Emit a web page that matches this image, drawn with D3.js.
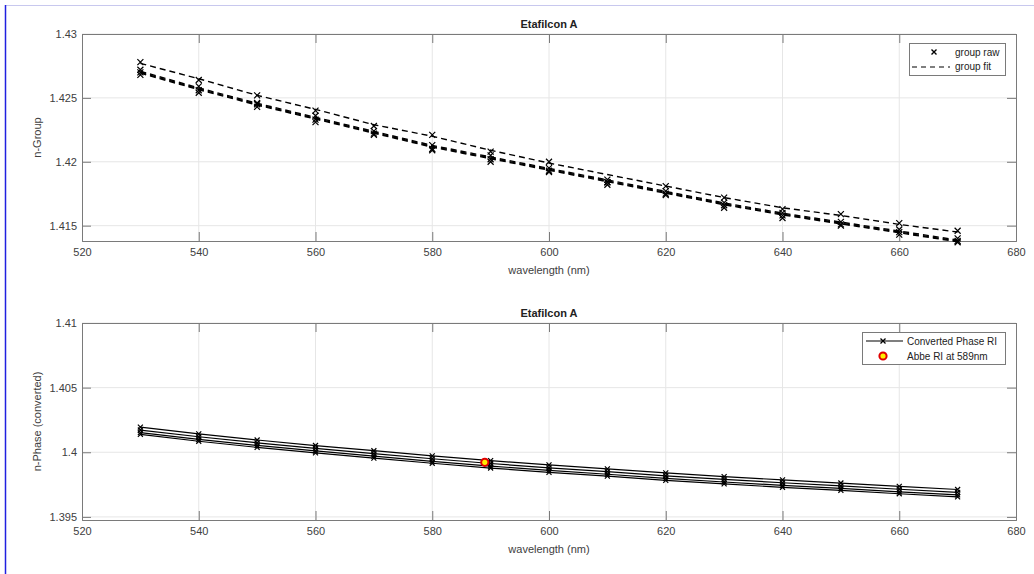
<!DOCTYPE html>
<html>
<head>
<meta charset="utf-8">
<script src="https://d3js.org/d3.v7.min.js"></script>
<style>
  body { margin: 0; background: #fff; }
  svg { display: block; font-family: "Liberation Sans", Arial, sans-serif; }
</style>
</head>
<body>
<svg id="main_svg" width="1034" height="574"></svg>
<script>
// wavelengths (nm)
const wl = [530, 540, 550, 560, 570, 580, 590, 600, 610, 620, 630, 640, 650, 660, 670]

// group index fits, one per sample (top panel)
const groupFitA = [1.4277, 1.4265, 1.4252, 1.4241, 1.4229, 1.4220, 1.4209, 1.4199, 1.4190, 1.4181, 1.4172, 1.4164, 1.4158, 1.4151, 1.4145]
const groupFitB = [1.42708, 1.42578, 1.42458, 1.42348, 1.42238, 1.42128, 1.42038, 1.41948, 1.41858, 1.41768, 1.41678, 1.41598, 1.41528, 1.41458, 1.41388]
const groupFitC = [1.4270, 1.4257, 1.4245, 1.4234, 1.4223, 1.4212, 1.4203, 1.4194, 1.4185, 1.4176, 1.4167, 1.4159, 1.4152, 1.4145, 1.4138]
const groupFitD = [1.42694, 1.42564, 1.42444, 1.42334, 1.42224, 1.42114, 1.42024, 1.41934, 1.41844, 1.41754, 1.41664, 1.41584, 1.41514, 1.41444, 1.41374]

// group index raw measurements
const groupRawA = [1.4278, 1.4264, 1.4252, 1.4240, 1.4228, 1.4221, 1.4208, 1.4200, 1.4184, 1.4181, 1.4172, 1.4163, 1.4159, 1.4152, 1.4146]
const groupRawB = [1.4272, 1.4259, 1.4246, 1.4236, 1.4224, 1.4213, 1.4205, 1.4195, 1.4184, 1.4177, 1.4168, 1.4160, 1.4153, 1.4147, 1.4140]
const groupRawC = [1.4270, 1.4256, 1.4245, 1.4233, 1.4222, 1.4210, 1.4202, 1.4193, 1.4186, 1.4175, 1.4166, 1.4158, 1.4151, 1.4145, 1.4138]
const groupRawD = [1.4268, 1.4254, 1.4243, 1.4231, 1.4221, 1.4209, 1.4200, 1.4192, 1.4182, 1.4174, 1.4164, 1.4156, 1.4150, 1.4143, 1.4137]

// converted phase index, one per sample (bottom panel)
const phaseA = [1.40195, 1.40142, 1.40095, 1.40052, 1.40012, 1.39972, 1.39935, 1.39902, 1.39872, 1.39840, 1.39812, 1.39786, 1.39762, 1.39736, 1.39712]
const phaseB = [1.40172, 1.40120, 1.40073, 1.40030, 1.39990, 1.39950, 1.39913, 1.39880, 1.39850, 1.39818, 1.39790, 1.39764, 1.39740, 1.39714, 1.39690]
const phaseC = [1.40152, 1.40100, 1.40053, 1.40010, 1.39970, 1.39930, 1.39893, 1.39860, 1.39830, 1.39798, 1.39770, 1.39744, 1.39720, 1.39694, 1.39670]
const phaseD = [1.40138, 1.40085, 1.40038, 1.39995, 1.39955, 1.39915, 1.39878, 1.39845, 1.39815, 1.39783, 1.39755, 1.39729, 1.39705, 1.39679, 1.39655]

// Abbe refractometer point
const abbeWl = 589
const abbeRI = 1.39922

const xTicks = [520, 540, 560, 580, 600, 620, 640, 660, 680]
const yTicksTop = [1.415, 1.42, 1.425, 1.43]
const yTicksBot = [1.395, 1.4, 1.405, 1.41]

const svg = d3.select("#main_svg")

// window frame lines
svg.append("line").attr("x1", 5).attr("x2", 1034).attr("y1", 5.5).attr("y2", 5.5)
    .attr("stroke", "#c8c8ee").attr("stroke-width", 1)
svg.append("line").attr("x1", 5.5).attr("x2", 5.5).attr("y1", 5).attr("y2", 574)
    .attr("stroke", "#2020e0").attr("stroke-width", 1.5)

const axisCol = "#7a7a7a"
const textCol = "#404040"

function panel(top, bottom, yDomain, yTicks, yFmt, yLabel) {
    const left = 82, right = 1016
    const x = d3.scaleLinear().domain([520, 680]).range([left, right])
    const y = d3.scaleLinear().domain(yDomain).range([bottom, top])
    const g = svg.append("g")

    // grid
    g.selectAll(".gx").data(xTicks.slice(1, -1)).enter().append("line")
        .attr("x1", d => x(d)).attr("x2", d => x(d)).attr("y1", top).attr("y2", bottom)
        .attr("stroke", "#e6e6e6")
    g.selectAll(".gy").data(yTicks).enter().append("line")
        .attr("x1", left).attr("x2", right).attr("y1", d => y(d)).attr("y2", d => y(d))
        .attr("stroke", "#e6e6e6")

    // axes (ticks inward, box on)
    const tl = 9
    g.append("g").attr("transform", "translate(0," + bottom + ")")
        .call(d3.axisBottom(x).tickValues(xTicks).tickSize(-tl).tickPadding(7).tickFormat(d3.format("d")))
    g.append("g").attr("transform", "translate(0," + top + ")")
        .call(d3.axisTop(x).tickValues(xTicks).tickSize(-tl).tickFormat(""))
    g.append("g").attr("transform", "translate(" + left + ",0)")
        .call(d3.axisLeft(y).tickValues(yTicks).tickSize(-tl).tickPadding(5).tickFormat(yFmt))
    g.append("g").attr("transform", "translate(" + right + ",0)")
        .call(d3.axisRight(y).tickValues(yTicks).tickSize(-tl).tickFormat(""))
    g.selectAll(".domain").attr("stroke", axisCol)
    g.selectAll(".tick line").attr("stroke", axisCol)
    g.selectAll(".tick text").attr("fill", textCol).attr("font-size", 11)
        .attr("font-family", "Liberation Sans, Arial, sans-serif")

    g.append("text").attr("x", (left + right) / 2).attr("y", top - 6)
        .attr("text-anchor", "middle").attr("font-size", 11).attr("font-weight", "bold")
        .attr("fill", "#222").text("Etafilcon A")
    g.append("text").attr("x", (left + right) / 2).attr("y", bottom + 33)
        .attr("text-anchor", "middle").attr("font-size", 11).attr("fill", textCol)
        .text("wavelength (nm)")
    const ly = (top + bottom) / 2
    g.append("text").attr("transform", "translate(41," + ly + ") rotate(-90)")
        .attr("text-anchor", "middle").attr("font-size", 11).attr("fill", textCol)
        .text(yLabel)
    return { x: x, y: y, g: g }
}

function cross(g, cx, cy, s, w) {
    g.append("path")
        .attr("d", "M" + (cx - s) + "," + (cy - s) + "L" + (cx + s) + "," + (cy + s) +
            "M" + (cx - s) + "," + (cy + s) + "L" + (cx + s) + "," + (cy - s))
        .attr("stroke", "#000").attr("stroke-width", w).attr("fill", "none")
}

// ---- top panel
const p1 = panel(34, 241, [1.4138, 1.43], yTicksTop, d => d3.format("")(d), "n-Group")
const fits = [groupFitA, groupFitB, groupFitC, groupFitD]
const raws = [groupRawA, groupRawB, groupRawC, groupRawD]
const line1 = d3.line().x((d, i) => p1.x(wl[i])).y(d => p1.y(d))
fits.forEach(f => {
    p1.g.append("path").datum(f).attr("d", line1)
        .attr("fill", "none").attr("stroke", "#000").attr("stroke-width", 1.4)
        .attr("stroke-dasharray", "6,4")
})
raws.forEach(r => {
    r.forEach((v, i) => cross(p1.g, p1.x(wl[i]), p1.y(v), 3, 1.2))
})

// top legend
const lg1 = p1.g.append("g")
lg1.append("rect").attr("x", 909.5).attr("y", 43.5).attr("width", 96).attr("height", 32)
    .attr("fill", "#fff").attr("stroke", "#7a7a7a")
cross(lg1, 934, 52, 2.5, 1.4)
lg1.append("text").attr("x", 955).attr("y", 56).attr("font-size", 10).attr("fill", "#222").text("group raw")
lg1.append("line").attr("x1", 912).attr("x2", 950).attr("y1", 67).attr("y2", 67)
    .attr("stroke", "#000").attr("stroke-width", 1.2).attr("stroke-dasharray", "5,4")
lg1.append("text").attr("x", 955).attr("y", 70).attr("font-size", 10).attr("fill", "#222").text("group fit")

// ---- bottom panel
const p2 = panel(323, 520, [1.39476, 1.41], yTicksBot, d => d3.format("")(d), "n-Phase (converted)")
const phases = [phaseA, phaseB, phaseC, phaseD]
const line2 = d3.line().x((d, i) => p2.x(wl[i])).y(d => p2.y(d))
phases.forEach(ph => {
    p2.g.append("path").datum(ph).attr("d", line2)
        .attr("fill", "none").attr("stroke", "#000").attr("stroke-width", 1.2)
})
phases.forEach(ph => {
    ph.forEach((v, i) => cross(p2.g, p2.x(wl[i]), p2.y(v), 2.5, 1.2))
})
p2.g.append("circle").attr("cx", p2.x(abbeWl)).attr("cy", p2.y(abbeRI)).attr("r", 3.6)
    .attr("fill", "#ffee00").attr("stroke", "#e00000").attr("stroke-width", 2)

// bottom legend
const lg2 = p2.g.append("g")
lg2.append("rect").attr("x", 862.5).attr("y", 332.5).attr("width", 143).attr("height", 32)
    .attr("fill", "#fff").attr("stroke", "#7a7a7a")
lg2.append("line").attr("x1", 866).attr("x2", 903).attr("y1", 341).attr("y2", 341)
    .attr("stroke", "#000").attr("stroke-width", 1.2)
cross(lg2, 883, 341, 2.5, 1.3)
lg2.append("text").attr("x", 907).attr("y", 345).attr("font-size", 10).attr("fill", "#222").text("Converted Phase RI")
lg2.append("circle").attr("cx", 883).attr("cy", 356).attr("r", 3.6)
    .attr("fill", "#ffee00").attr("stroke", "#e00000").attr("stroke-width", 2)
lg2.append("text").attr("x", 907).attr("y", 360).attr("font-size", 10).attr("fill", "#222").text("Abbe RI at 589nm")
</script>
</body>
</html>
